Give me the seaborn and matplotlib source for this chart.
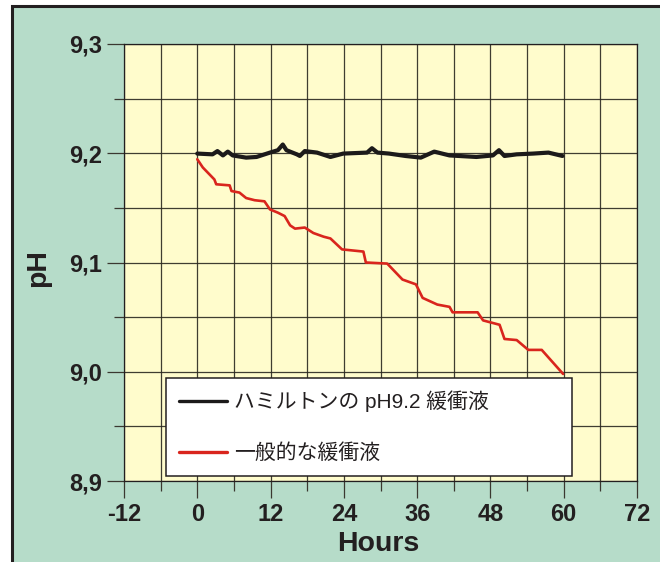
import matplotlib
matplotlib.use("Agg")
import matplotlib.pyplot as plt
from matplotlib.patches import Rectangle
from matplotlib.ticker import FixedLocator
import numpy as np
import pandas as pd
import seaborn as sns

# ---- data ----
series_names = ["ハミルトンの pH9.2 緩衝液", "一般的な緩衝液"]

hamilton_hours = [0, 2.5, 3.3, 4.2, 5.0, 5.8, 8.0, 9.7, 11.9, 13.2, 14.0, 14.6, 16.3,
                  16.8, 17.6, 19.6, 21.8, 23.9, 27.8, 28.6, 29.5, 31.4, 34.1, 36.6,
                  38.8, 41.3, 45.7, 48.4, 49.4, 50.3, 52.3, 55.0, 57.5, 59.8]
hamilton_ph = [9.1997, 9.199, 9.202, 9.198, 9.2015, 9.198, 9.196, 9.1966, 9.2006,
               9.2028, 9.208, 9.2028, 9.199, 9.1975, 9.202, 9.2006, 9.1966, 9.1997,
               9.2006, 9.2046, 9.2006, 9.1997, 9.1975, 9.196, 9.2015, 9.198, 9.1966,
               9.198, 9.2028, 9.1975, 9.199, 9.1997, 9.2006, 9.1975]

generic_hours = [0, 0.9, 2.8, 3.1, 5.3, 5.6, 6.9, 8.0, 9.4, 11.0, 11.9, 13.2, 14.3,
                 15.2, 16.0, 17.6, 19.0, 20.7, 21.8, 23.7, 27.2, 27.6, 31.1, 33.6,
                 35.8, 36.9, 39.3, 41.3, 41.8, 45.9, 46.8, 49.5, 50.3, 52.3, 54.2,
                 56.4, 59.9]
generic_ph = [9.1945, 9.187, 9.176, 9.1716, 9.1706, 9.1654, 9.164, 9.159, 9.157,
              9.156, 9.1486, 9.1456, 9.1425, 9.134, 9.131, 9.132, 9.127, 9.1236,
              9.122, 9.112, 9.110, 9.100, 9.099, 9.0844, 9.080, 9.0676, 9.0615,
              9.0594, 9.0544, 9.0544, 9.047, 9.043, 9.030, 9.029, 9.020, 9.020,
              8.998]

x_ticks = [-12, 0, 12, 24, 36, 48, 60, 72]
x_tick_labels = ["-12", "0", "12", "24", "36", "48", "60", "72"]
x_minor_ticks = [-6, 6, 18, 30, 42, 54, 66]
y_ticks = [8.9, 9.0, 9.1, 9.2, 9.3]
y_tick_labels = ["8,9", "9,0", "9,1", "9,2", "9,3"]
y_minor_ticks = [8.95, 9.05, 9.15, 9.25]
x_label = "Hours"
y_label = "pH"

# ---- style ----
sns.set_style("ticks")
plt.rcParams["font.family"] = ["Liberation Sans", "Noto Sans CJK JP", "DejaVu Sans"]

MINT = "#b6dcc9"
YELLOW = "#fffccc"
INK = "#231f20"
RED = "#d9251d"

fig = plt.figure(figsize=(6.6, 5.62), dpi=100, facecolor="white")
# outer frame (left/top edges visible, right/bottom outside the image)
fig.patches.append(Rectangle((12 / 660, -0.05), 1.2, 1 - 6 / 562 + 0.05,
                             transform=fig.transFigure, facecolor=MINT,
                             edgecolor=INK, linewidth=2.2, zorder=-10))

ax = fig.add_axes([124 / 660, 1 - 481 / 562, 513 / 660, 437 / 562])
ax.set_facecolor(YELLOW)

df_h = pd.DataFrame({"Hours": hamilton_hours, "pH": hamilton_ph})
df_g = pd.DataFrame({"Hours": generic_hours, "pH": generic_ph})

sns.lineplot(data=df_h, x="Hours", y="pH", ax=ax, color="#1c1a1a", linewidth=3.0,
             sort=False, estimator=None, label=series_names[0], zorder=4)
sns.lineplot(data=df_g, x="Hours", y="pH", ax=ax, color=RED, linewidth=1.9,
             sort=False, estimator=None, label=series_names[1], zorder=4)

ax.set_xlim(-12, 72)
ax.set_ylim(8.9, 9.3)
ax.set_xticks(x_ticks)
ax.set_xticklabels(x_tick_labels)
ax.xaxis.set_minor_locator(FixedLocator(x_minor_ticks))
ax.set_yticks(y_ticks)
ax.set_yticklabels(y_tick_labels)
ax.yaxis.set_minor_locator(FixedLocator(y_minor_ticks))

ax.grid(True, which="both", color="#2a2820", linewidth=0.9, alpha=0.9, zorder=1)
ax.set_axisbelow(True)

for s in ax.spines.values():
    s.set_color(INK)
    s.set_linewidth(0.9)

ax.tick_params(axis="both", which="major", direction="out", length=12, width=0.9,
               color="#3a3830", labelsize=17, labelcolor=INK)
ax.tick_params(axis="both", which="minor", direction="out", length=7.5, width=0.9,
               color="#3a3830")
ax.tick_params(axis="y", which="major", pad=4)
ax.tick_params(axis="x", which="major", pad=4)
for lab in ax.get_xticklabels() + ax.get_yticklabels():
    lab.set_fontweight("bold")

ax.set_xlabel("")
ax.set_ylabel("")
fig.text(378 / 660, 1 - 544 / 562, x_label, ha="center", va="center",
         fontsize=20.5, fontweight="bold", color=INK)
fig.text(38 / 660, 1 - 268 / 562, y_label, ha="center", va="center", rotation=90,
         fontsize=20.5, fontweight="bold", color=INK)

leg = ax.legend(loc="upper left", bbox_to_anchor=(0.0819, 0.2357, 0.791, 0),
                mode="expand", borderaxespad=0, frameon=True, fancybox=False,
                framealpha=1, facecolor="white", edgecolor=INK,
                prop={"size": 15}, handlelength=2.35, handletextpad=0.3,
                borderpad=0.6, labelspacing=1.5)
leg.get_frame().set_linewidth(1.1)
leg.set_zorder(6)
for h in leg.get_lines():
    h.set_linewidth(2.4)
for t in leg.get_texts():
    t.set_color(INK)

fig.savefig("out.png", dpi=100, facecolor=fig.get_facecolor())
